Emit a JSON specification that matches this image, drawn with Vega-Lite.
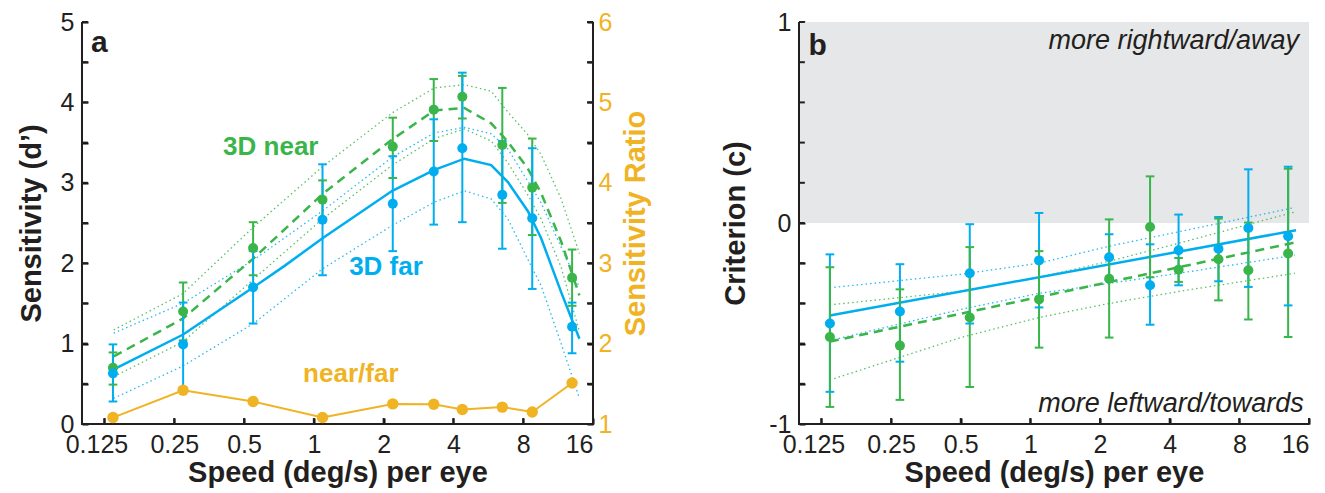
{
  "$schema": "https://vega.github.io/schema/vega-lite/v6.json",
  "background": "white",
  "padding": {"left": 17, "top": 10, "right": 5, "bottom": 5},
  "spacing": 70,
  "config": {
    "font": "Liberation Sans",
    "view": {"stroke": null},
    "scale": {"continuousPadding": 0},
    "axis": {
      "labelFont": "Liberation Sans", "labelFontSize": 25, "labelColor": "#231f20",
      "titleFont": "Liberation Sans", "titleFontSize": 29, "titleFontWeight": "bold", "titleColor": "#231f20",
      "grid": false, "labelOverlap": false, "labelBound": false, "labelFlush": false,
      "domain": false, "ticks": true, "tickSize": -6, "tickColor": "black", "tickWidth": 2
    }
  },
  "datasets": {
    "tyA": [{"t": 0}, {"t": 0.5}, {"t": 1}, {"t": 1.5}, {"t": 2}, {"t": 2.5}, {"t": 3}, {"t": 3.5}, {"t": 4}, {"t": 4.5}, {"t": 5}],
    "tyB": [{"t": -1}, {"t": -0.8}, {"t": -0.6}, {"t": -0.4}, {"t": -0.2}, {"t": 0}, {"t": 0.2}, {"t": 0.4}, {"t": 0.6}, {"t": 0.8}, {"t": 1}],
    "tx": [{"t": 0.125}, {"t": 0.25}, {"t": 0.5}, {"t": 1}, {"t": 2}, {"t": 4}, {"t": 8}, {"t": 16}],
    "pa": [
      {"s": 0.136, "cond": "near", "v": 0.70, "lo": 0.49, "hi": 0.89},
      {"s": 0.273, "cond": "near", "v": 1.40, "lo": 1.04, "hi": 1.76},
      {"s": 0.547, "cond": "near", "v": 2.19, "lo": 1.85, "hi": 2.51},
      {"s": 1.09, "cond": "near", "v": 2.79, "lo": 2.55, "hi": 3.03},
      {"s": 2.19, "cond": "near", "v": 3.45, "lo": 3.06, "hi": 3.81},
      {"s": 3.29, "cond": "near", "v": 3.91, "lo": 3.52, "hi": 4.29},
      {"s": 4.37, "cond": "near", "v": 4.07, "lo": 3.80, "hi": 4.33},
      {"s": 6.5, "cond": "near", "v": 3.47, "lo": 2.75, "hi": 4.18},
      {"s": 8.75, "cond": "near", "v": 2.94, "lo": 2.35, "hi": 3.55},
      {"s": 13.0, "cond": "near", "v": 1.82, "lo": 1.47, "hi": 2.17},
      {"s": 0.136, "cond": "far", "v": 0.63, "lo": 0.28, "hi": 0.99},
      {"s": 0.273, "cond": "far", "v": 0.99, "lo": 0.45, "hi": 1.51},
      {"s": 0.547, "cond": "far", "v": 1.70, "lo": 1.25, "hi": 2.15},
      {"s": 1.09, "cond": "far", "v": 2.54, "lo": 1.85, "hi": 3.23},
      {"s": 2.19, "cond": "far", "v": 2.74, "lo": 2.15, "hi": 3.33},
      {"s": 3.29, "cond": "far", "v": 3.14, "lo": 2.48, "hi": 3.79},
      {"s": 4.37, "cond": "far", "v": 3.43, "lo": 2.51, "hi": 4.37},
      {"s": 6.5, "cond": "far", "v": 2.85, "lo": 2.18, "hi": 3.52},
      {"s": 8.75, "cond": "far", "v": 2.56, "lo": 1.68, "hi": 3.43},
      {"s": 13.0, "cond": "far", "v": 1.21, "lo": 0.88, "hi": 1.51}
    ],
    "ratio": [
      {"s": 0.136, "r": 1.08}, {"s": 0.273, "r": 1.42}, {"s": 0.547, "r": 1.28}, {"s": 1.09, "r": 1.08},
      {"s": 2.19, "r": 1.25}, {"s": 3.29, "r": 1.245}, {"s": 4.37, "r": 1.18}, {"s": 6.5, "r": 1.21},
      {"s": 8.75, "r": 1.15}, {"s": 13.0, "r": 1.51}
    ],
    "fa": [
      {"s": 0.137, "v": 0.68, "cond": "far", "band": "fit"}, {"s": 0.272, "v": 1.11, "cond": "far", "band": "fit"},
      {"s": 0.549, "v": 1.70, "cond": "far", "band": "fit"}, {"s": 0.75, "v": 1.97, "cond": "far", "band": "fit"},
      {"s": 1.09, "v": 2.31, "cond": "far", "band": "fit"}, {"s": 2.18, "v": 2.90, "cond": "far", "band": "fit"},
      {"s": 3.31, "v": 3.16, "cond": "far", "band": "fit"}, {"s": 4.46, "v": 3.30, "cond": "far", "band": "fit"},
      {"s": 5.82, "v": 3.22, "cond": "far", "band": "fit"}, {"s": 6.87, "v": 3.01, "cond": "far", "band": "fit"},
      {"s": 8.37, "v": 2.65, "cond": "far", "band": "fit"}, {"s": 9.56, "v": 2.31, "cond": "far", "band": "fit"},
      {"s": 11.66, "v": 1.64, "cond": "far", "band": "fit"}, {"s": 13.98, "v": 1.06, "cond": "far", "band": "fit"},
      {"s": 0.137, "v": 1.13, "cond": "far", "band": "up"}, {"s": 0.272, "v": 1.50, "cond": "far", "band": "up"},
      {"s": 0.549, "v": 2.04, "cond": "far", "band": "up"}, {"s": 1.09, "v": 2.65, "cond": "far", "band": "up"},
      {"s": 2.18, "v": 3.32, "cond": "far", "band": "up"}, {"s": 3.31, "v": 3.62, "cond": "far", "band": "up"},
      {"s": 4.46, "v": 3.69, "cond": "far", "band": "up"}, {"s": 5.82, "v": 3.61, "cond": "far", "band": "up"},
      {"s": 6.87, "v": 3.42, "cond": "far", "band": "up"}, {"s": 8.37, "v": 3.02, "cond": "far", "band": "up"},
      {"s": 9.56, "v": 2.75, "cond": "far", "band": "up"}, {"s": 11.66, "v": 2.20, "cond": "far", "band": "up"},
      {"s": 13.98, "v": 1.70, "cond": "far", "band": "up"},
      {"s": 0.137, "v": 0.32, "cond": "far", "band": "lo"}, {"s": 0.272, "v": 0.72, "cond": "far", "band": "lo"},
      {"s": 0.549, "v": 1.25, "cond": "far", "band": "lo"}, {"s": 1.09, "v": 1.93, "cond": "far", "band": "lo"},
      {"s": 2.18, "v": 2.47, "cond": "far", "band": "lo"}, {"s": 3.31, "v": 2.76, "cond": "far", "band": "lo"},
      {"s": 4.46, "v": 2.90, "cond": "far", "band": "lo"}, {"s": 5.82, "v": 2.80, "cond": "far", "band": "lo"},
      {"s": 6.87, "v": 2.55, "cond": "far", "band": "lo"}, {"s": 8.37, "v": 2.05, "cond": "far", "band": "lo"},
      {"s": 9.56, "v": 1.72, "cond": "far", "band": "lo"}, {"s": 11.66, "v": 1.00, "cond": "far", "band": "lo"},
      {"s": 13.98, "v": 0.32, "cond": "far", "band": "lo"},
      {"s": 0.137, "v": 0.84, "cond": "near", "band": "fit"}, {"s": 0.272, "v": 1.31, "cond": "near", "band": "fit"},
      {"s": 0.549, "v": 2.06, "cond": "near", "band": "fit"}, {"s": 1.09, "v": 2.86, "cond": "near", "band": "fit"},
      {"s": 2.18, "v": 3.54, "cond": "near", "band": "fit"}, {"s": 3.31, "v": 3.90, "cond": "near", "band": "fit"},
      {"s": 4.46, "v": 3.93, "cond": "near", "band": "fit"}, {"s": 5.82, "v": 3.74, "cond": "near", "band": "fit"},
      {"s": 6.87, "v": 3.51, "cond": "near", "band": "fit"}, {"s": 8.37, "v": 3.18, "cond": "near", "band": "fit"},
      {"s": 9.56, "v": 2.87, "cond": "near", "band": "fit"}, {"s": 11.66, "v": 2.27, "cond": "near", "band": "fit"},
      {"s": 13.98, "v": 1.60, "cond": "near", "band": "fit"},
      {"s": 0.137, "v": 1.17, "cond": "near", "band": "up"}, {"s": 0.272, "v": 1.62, "cond": "near", "band": "up"},
      {"s": 0.549, "v": 2.45, "cond": "near", "band": "up"}, {"s": 1.09, "v": 3.20, "cond": "near", "band": "up"},
      {"s": 2.18, "v": 3.87, "cond": "near", "band": "up"}, {"s": 3.31, "v": 4.18, "cond": "near", "band": "up"},
      {"s": 4.46, "v": 4.22, "cond": "near", "band": "up"}, {"s": 5.82, "v": 4.14, "cond": "near", "band": "up"},
      {"s": 6.87, "v": 3.88, "cond": "near", "band": "up"}, {"s": 8.37, "v": 3.60, "cond": "near", "band": "up"},
      {"s": 9.56, "v": 3.35, "cond": "near", "band": "up"}, {"s": 11.66, "v": 2.80, "cond": "near", "band": "up"},
      {"s": 13.98, "v": 2.12, "cond": "near", "band": "up"},
      {"s": 0.137, "v": 0.59, "cond": "near", "band": "lo"}, {"s": 0.272, "v": 1.02, "cond": "near", "band": "lo"},
      {"s": 0.549, "v": 1.80, "cond": "near", "band": "lo"}, {"s": 1.09, "v": 2.55, "cond": "near", "band": "lo"},
      {"s": 2.18, "v": 3.22, "cond": "near", "band": "lo"}, {"s": 3.31, "v": 3.55, "cond": "near", "band": "lo"},
      {"s": 4.46, "v": 3.67, "cond": "near", "band": "lo"}, {"s": 5.82, "v": 3.52, "cond": "near", "band": "lo"},
      {"s": 6.87, "v": 3.25, "cond": "near", "band": "lo"}, {"s": 8.37, "v": 2.85, "cond": "near", "band": "lo"},
      {"s": 9.56, "v": 2.55, "cond": "near", "band": "lo"}, {"s": 11.66, "v": 1.95, "cond": "near", "band": "lo"},
      {"s": 13.98, "v": 1.15, "cond": "near", "band": "lo"}
    ],
    "pb": [
      {"s": 0.136, "cond": "far", "v": -0.50, "lo": -0.84, "hi": -0.156},
      {"s": 0.273, "cond": "far", "v": -0.44, "lo": -0.69, "hi": -0.205},
      {"s": 0.547, "cond": "far", "v": -0.25, "lo": -0.50, "hi": -0.006},
      {"s": 1.09, "cond": "far", "v": -0.186, "lo": -0.42, "hi": 0.05},
      {"s": 2.19, "cond": "far", "v": -0.17, "lo": -0.284, "hi": -0.056},
      {"s": 3.29, "cond": "far", "v": -0.31, "lo": -0.506, "hi": -0.106},
      {"s": 4.37, "cond": "far", "v": -0.136, "lo": -0.31, "hi": 0.042},
      {"s": 6.5, "cond": "far", "v": -0.128, "lo": -0.29, "hi": 0.03},
      {"s": 8.75, "cond": "far", "v": -0.025, "lo": -0.318, "hi": 0.267},
      {"s": 13.0, "cond": "far", "v": -0.066, "lo": -0.41, "hi": 0.28},
      {"s": 0.136, "cond": "near", "v": -0.567, "lo": -0.915, "hi": -0.22},
      {"s": 0.273, "cond": "near", "v": -0.61, "lo": -0.88, "hi": -0.33},
      {"s": 0.547, "cond": "near", "v": -0.47, "lo": -0.816, "hi": -0.12},
      {"s": 1.09, "cond": "near", "v": -0.38, "lo": -0.62, "hi": -0.14},
      {"s": 2.19, "cond": "near", "v": -0.277, "lo": -0.57, "hi": 0.018},
      {"s": 3.29, "cond": "near", "v": -0.02, "lo": -0.27, "hi": 0.232},
      {"s": 4.37, "cond": "near", "v": -0.232, "lo": -0.293, "hi": -0.174},
      {"s": 6.5, "cond": "near", "v": -0.18, "lo": -0.385, "hi": 0.022},
      {"s": 8.75, "cond": "near", "v": -0.235, "lo": -0.48, "hi": 0.002},
      {"s": 13.0, "cond": "near", "v": -0.152, "lo": -0.567, "hi": 0.27}
    ],
    "fb": [
      {"s": 0.136, "v": -0.46, "cond": "far", "band": "fit"}, {"s": 14.06, "v": -0.036, "cond": "far", "band": "fit"},
      {"s": 0.136, "v": -0.59, "cond": "near", "band": "fit"}, {"s": 14.06, "v": -0.096, "cond": "near", "band": "fit"},
      {"s": 0.142, "v": -0.32, "cond": "far", "band": "up"}, {"s": 0.5, "v": -0.255, "cond": "far", "band": "up"},
      {"s": 1.09, "v": -0.20, "cond": "far", "band": "up"}, {"s": 2.2, "v": -0.115, "cond": "far", "band": "up"},
      {"s": 4.4, "v": -0.043, "cond": "far", "band": "up"}, {"s": 13.9, "v": 0.077, "cond": "far", "band": "up"},
      {"s": 0.142, "v": -0.58, "cond": "far", "band": "lo"}, {"s": 0.5, "v": -0.43, "cond": "far", "band": "lo"},
      {"s": 1.09, "v": -0.35, "cond": "far", "band": "lo"}, {"s": 2.2, "v": -0.30, "cond": "far", "band": "lo"},
      {"s": 4.4, "v": -0.25, "cond": "far", "band": "lo"}, {"s": 13.9, "v": -0.16, "cond": "far", "band": "lo"},
      {"s": 0.142, "v": -0.405, "cond": "near", "band": "up"}, {"s": 0.5, "v": -0.34, "cond": "near", "band": "up"},
      {"s": 1.09, "v": -0.27, "cond": "near", "band": "up"}, {"s": 2.2, "v": -0.19, "cond": "near", "band": "up"},
      {"s": 4.4, "v": -0.10, "cond": "near", "band": "up"}, {"s": 13.9, "v": 0.055, "cond": "near", "band": "up"},
      {"s": 0.142, "v": -0.774, "cond": "near", "band": "lo"}, {"s": 0.5, "v": -0.57, "cond": "near", "band": "lo"},
      {"s": 1.09, "v": -0.47, "cond": "near", "band": "lo"}, {"s": 2.2, "v": -0.40, "cond": "near", "band": "lo"},
      {"s": 4.4, "v": -0.34, "cond": "near", "band": "lo"}, {"s": 13.9, "v": -0.25, "cond": "near", "band": "lo"}
    ]
  },
  "hconcat": [
    {
      "width": 511,
      "height": 402,
      "resolve": {"scale": {"y": "independent"}},
      "layer": [
        {
          "layer": [
            {
              "data": {"name": "fa"},
              "transform": [{"filter": "datum.band !== 'fit'"}],
              "mark": {"type": "line", "strokeWidth": 1.3, "strokeDash": [1.5, 3], "opacity": 0.85},
              "encoding": {
                "x": {"field": "s", "type": "quantitative", "scale": {"type": "log", "domain": [0.1, 16], "nice": false, "padding": 0}, "title": "Speed (deg/s) per eye",
                  "axis": {"values": [0.125, 0.25, 0.5, 1, 2, 4, 8, 16], "format": "~g", "labelPadding": 14, "titlePadding": 1,
                    "labelAlign": {"condition": {"test": "datum.value > 10", "value": "right"}, "value": "center"},
                    "labelOffset": {"condition": {"test": "datum.value < 0.2", "value": -8}, "value": 0}}},
                "y": {"field": "v", "type": "quantitative", "scale": {"domain": [0, 5], "nice": false, "padding": 0}, "title": "Sensitivity (d’)",
                  "axis": {"values": [0, 0.5, 1, 1.5, 2, 2.5, 3, 3.5, 4, 4.5, 5], "labelExpr": "datum.value % 1 ? '' : format(datum.value, 'd')", "labelPadding": 14, "titlePadding": 14}},
                "color": {"field": "cond", "type": "nominal", "scale": {"domain": ["far", "near"], "range": ["#00aeef", "#39b54a"]}, "legend": null},
                "detail": {"field": "band"}
              }
            },
            {
              "data": {"name": "fa"},
              "transform": [{"filter": "datum.band === 'fit' && datum.cond === 'far'"}],
              "mark": {"type": "line", "strokeWidth": 2.5},
              "encoding": {
                "x": {"field": "s", "type": "quantitative", "scale": {"type": "log", "domain": [0.1, 16], "nice": false, "padding": 0}, "title": "Speed (deg/s) per eye"},
                "y": {"field": "v", "type": "quantitative", "scale": {"domain": [0, 5], "nice": false, "padding": 0}, "title": "Sensitivity (d’)"},
                "color": {"field": "cond", "type": "nominal", "legend": null}
              }
            },
            {
              "data": {"name": "fa"},
              "transform": [{"filter": "datum.band === 'fit' && datum.cond === 'near'"}],
              "mark": {"type": "line", "strokeWidth": 2.5, "strokeDash": [9, 6]},
              "encoding": {
                "x": {"field": "s", "type": "quantitative", "scale": {"type": "log", "domain": [0.1, 16], "nice": false, "padding": 0}, "title": "Speed (deg/s) per eye"},
                "y": {"field": "v", "type": "quantitative", "scale": {"domain": [0, 5], "nice": false, "padding": 0}, "title": "Sensitivity (d’)"},
                "color": {"field": "cond", "type": "nominal", "legend": null}
              }
            },
            {
              "data": {"name": "pa"},
              "mark": {"type": "rule", "strokeWidth": 2},
              "encoding": {
                "x": {"field": "s", "type": "quantitative", "scale": {"type": "log", "domain": [0.1, 16], "nice": false, "padding": 0}, "title": "Speed (deg/s) per eye"},
                "y": {"field": "lo", "type": "quantitative", "scale": {"domain": [0, 5], "nice": false, "padding": 0}, "title": "Sensitivity (d’)"},
                "y2": {"field": "hi"},
                "color": {"field": "cond", "type": "nominal", "legend": null}
              }
            },
            {
              "data": {"name": "pa"},
              "mark": {"type": "point", "shape": "M-1,0L1,0", "size": 75, "strokeWidth": 2, "filled": false, "opacity": 1},
              "encoding": {
                "x": {"field": "s", "type": "quantitative", "scale": {"type": "log", "domain": [0.1, 16], "nice": false, "padding": 0}, "title": "Speed (deg/s) per eye"},
                "y": {"field": "lo", "type": "quantitative", "scale": {"domain": [0, 5], "nice": false, "padding": 0}, "title": "Sensitivity (d’)"},
                "color": {"field": "cond", "type": "nominal", "legend": null}
              }
            },
            {
              "data": {"name": "pa"},
              "mark": {"type": "point", "shape": "M-1,0L1,0", "size": 75, "strokeWidth": 2, "filled": false, "opacity": 1},
              "encoding": {
                "x": {"field": "s", "type": "quantitative", "scale": {"type": "log", "domain": [0.1, 16], "nice": false, "padding": 0}, "title": "Speed (deg/s) per eye"},
                "y": {"field": "hi", "type": "quantitative", "scale": {"domain": [0, 5], "nice": false, "padding": 0}, "title": "Sensitivity (d’)"},
                "color": {"field": "cond", "type": "nominal", "legend": null}
              }
            },
            {
              "data": {"name": "pa"},
              "mark": {"type": "circle", "size": 100, "opacity": 1},
              "encoding": {
                "x": {"field": "s", "type": "quantitative", "scale": {"type": "log", "domain": [0.1, 16], "nice": false, "padding": 0}, "title": "Speed (deg/s) per eye"},
                "y": {"field": "v", "type": "quantitative", "scale": {"domain": [0, 5], "nice": false, "padding": 0}, "title": "Sensitivity (d’)"},
                "color": {"field": "cond", "type": "nominal", "legend": null}
              }
            },
            {
              "data": {"values": [{}]},
              "mark": {"type": "rect", "color": "#231f20", "opacity": 1},
              "encoding": {"x": {"datum": 0.099, "type": "quantitative"}, "x2": {"datum": 0.101}, "y": {"datum": 0, "type": "quantitative"}, "y2": {"datum": 5}}
            },
            {
              "data": {"values": [{}]},
              "mark": {"type": "rect", "color": "#231f20", "opacity": 1},
              "encoding": {"x": {"datum": 15.84, "type": "quantitative"}, "x2": {"datum": 16.16}, "y": {"datum": 0, "type": "quantitative"}, "y2": {"datum": 5}}
            },
            {
              "data": {"values": [{}]},
              "mark": {"type": "rect", "color": "#231f20", "opacity": 1},
              "encoding": {"x": {"datum": 0.099, "type": "quantitative"}, "x2": {"datum": 16.16}, "y": {"datum": -0.0124, "type": "quantitative"}, "y2": {"datum": 0.0124}}
            },
            {
              "data": {"name": "tyA"},
              "mark": {"type": "bar", "size": 2, "color": "#231f20", "opacity": 1},
              "encoding": {"x": {"datum": 0.1, "type": "quantitative"}, "x2": {"datum": 0.106}, "y": {"field": "t", "type": "quantitative", "scale": {"domain": [0, 5], "nice": false, "padding": 0}, "title": "Sensitivity (d’)"}}
            },
            {
              "data": {"name": "tyA"},
              "mark": {"type": "bar", "size": 2, "color": "#231f20", "opacity": 1},
              "encoding": {"x": {"datum": 15.08, "type": "quantitative"}, "x2": {"datum": 16}, "y": {"field": "t", "type": "quantitative", "scale": {"domain": [0, 5], "nice": false, "padding": 0}, "title": "Sensitivity (d’)"}}
            },
            {
              "data": {"name": "tx"},
              "mark": {"type": "bar", "size": 2, "color": "#231f20", "opacity": 1},
              "encoding": {"x": {"field": "t", "type": "quantitative", "scale": {"type": "log", "domain": [0.1, 16], "nice": false, "padding": 0}, "title": "Speed (deg/s) per eye"}, "y": {"datum": 0, "type": "quantitative"}, "y2": {"datum": 0.0746}}
            },
            {
              "data": {"values": [{}]},
              "mark": {"type": "text", "text": "a", "font": "Liberation Sans", "fontSize": 30, "fontWeight": "bold", "align": "left", "baseline": "alphabetic", "color": "#231f20"},
              "encoding": {"x": {"datum": 0.1094, "type": "quantitative"}, "y": {"datum": 4.63, "type": "quantitative"}}
            },
            {
              "data": {"values": [{}]},
              "mark": {"type": "text", "text": "3D near", "font": "Liberation Sans", "fontSize": 26, "fontWeight": "bold", "align": "left", "baseline": "alphabetic", "color": "#39b54a"},
              "encoding": {"x": {"datum": 0.406, "type": "quantitative"}, "y": {"datum": 3.34, "type": "quantitative"}}
            },
            {
              "data": {"values": [{}]},
              "mark": {"type": "text", "text": "3D far", "font": "Liberation Sans", "fontSize": 26, "fontWeight": "bold", "align": "left", "baseline": "alphabetic", "color": "#00aeef"},
              "encoding": {"x": {"datum": 1.42, "type": "quantitative"}, "y": {"datum": 1.85, "type": "quantitative"}}
            },
            {
              "data": {"values": [{}]},
              "mark": {"type": "text", "text": "near/far", "font": "Liberation Sans", "fontSize": 26, "fontWeight": "bold", "align": "left", "baseline": "alphabetic", "color": "#f0b323"},
              "encoding": {"x": {"datum": 0.899, "type": "quantitative"}, "y": {"datum": 0.526, "type": "quantitative"}}
            }
          ]
        },
        {
          "data": {"name": "ratio"},
          "layer": [
            {
              "mark": {"type": "line", "strokeWidth": 2, "color": "#f0b323"},
              "encoding": {
                "x": {"field": "s", "type": "quantitative", "scale": {"type": "log", "domain": [0.1, 16], "nice": false, "padding": 0}, "title": "Speed (deg/s) per eye"},
                "y": {"field": "r", "type": "quantitative", "scale": {"domain": [1, 6], "nice": false, "padding": 0}, "title": "Sensitivity Ratio",
                  "axis": {"orient": "right",
                    "values": [1, 1.5, 2, 2.5, 3, 3.5, 4, 4.5, 5, 5.5, 6], "labelExpr": "datum.value % 1 ? '' : format(datum.value, 'd')",
                    "labelColor": "#f0b323", "titleColor": "#f0b323", "titleAngle": 270, "titleBaseline": "top", "labelPadding": 11, "titlePadding": 10}}
              }
            },
            {
              "mark": {"type": "circle", "size": 130, "opacity": 1, "color": "#f0b323"},
              "encoding": {
                "x": {"field": "s", "type": "quantitative", "scale": {"type": "log", "domain": [0.1, 16], "nice": false, "padding": 0}, "title": "Speed (deg/s) per eye"},
                "y": {"field": "r", "type": "quantitative", "scale": {"domain": [1, 6], "nice": false, "padding": 0}, "title": "Sensitivity Ratio"}
              }
            }
          ]
        }
      ]
    },
    {
      "width": 510,
      "height": 402,
      "layer": [
        {
          "data": {"values": [{}]},
          "mark": {"type": "rect", "color": "#e6e7e8"},
          "encoding": {
            "x": {"datum": 0.1, "type": "quantitative", "scale": {"type": "log", "domain": [0.1, 16], "nice": false, "padding": 0}, "title": "Speed (deg/s) per eye",
              "axis": {"values": [0.125, 0.25, 0.5, 1, 2, 4, 8, 16], "format": "~g", "labelPadding": 14, "titlePadding": 1,
                "labelAlign": {"condition": {"test": "datum.value > 10", "value": "right"}, "value": "center"},
                "labelOffset": {"condition": {"test": "datum.value < 0.2", "value": -8}, "value": 0}}},
            "x2": {"datum": 16},
            "y": {"datum": 0, "type": "quantitative", "scale": {"domain": [-1, 1], "nice": false, "padding": 0}, "title": "Criterion (c)",
              "axis": {"values": [-1, -0.8, -0.6, -0.4, -0.2, 0, 0.2, 0.4, 0.6, 0.8, 1],
                "labelExpr": "abs(datum.value - round(datum.value)) > 0.01 ? '' : (datum.value < -0.5 ? '-1' : (datum.value > 0.5 ? '1' : '0'))",
                "labelPadding": 14, "titlePadding": 18}},
            "y2": {"datum": 1}
          }
        },
        {
          "data": {"name": "fb"},
          "transform": [{"filter": "datum.band !== 'fit'"}],
          "mark": {"type": "line", "strokeWidth": 1.3, "strokeDash": [1.5, 3], "opacity": 0.85},
          "encoding": {
            "x": {"field": "s", "type": "quantitative", "scale": {"type": "log", "domain": [0.1, 16], "nice": false, "padding": 0}, "title": "Speed (deg/s) per eye"},
            "y": {"field": "v", "type": "quantitative", "scale": {"domain": [-1, 1], "nice": false, "padding": 0}, "title": "Criterion (c)"},
            "color": {"field": "cond", "type": "nominal", "scale": {"domain": ["far", "near"], "range": ["#00aeef", "#39b54a"]}, "legend": null},
            "detail": {"field": "band"}
          }
        },
        {
          "data": {"name": "fb"},
          "transform": [{"filter": "datum.band === 'fit' && datum.cond === 'far'"}],
          "mark": {"type": "line", "strokeWidth": 2.5},
          "encoding": {
            "x": {"field": "s", "type": "quantitative", "scale": {"type": "log", "domain": [0.1, 16], "nice": false, "padding": 0}, "title": "Speed (deg/s) per eye"},
            "y": {"field": "v", "type": "quantitative", "scale": {"domain": [-1, 1], "nice": false, "padding": 0}, "title": "Criterion (c)"},
            "color": {"field": "cond", "type": "nominal", "legend": null}
          }
        },
        {
          "data": {"name": "fb"},
          "transform": [{"filter": "datum.band === 'fit' && datum.cond === 'near'"}],
          "mark": {"type": "line", "strokeWidth": 2.5, "strokeDash": [9, 6]},
          "encoding": {
            "x": {"field": "s", "type": "quantitative", "scale": {"type": "log", "domain": [0.1, 16], "nice": false, "padding": 0}, "title": "Speed (deg/s) per eye"},
            "y": {"field": "v", "type": "quantitative", "scale": {"domain": [-1, 1], "nice": false, "padding": 0}, "title": "Criterion (c)"},
            "color": {"field": "cond", "type": "nominal", "legend": null}
          }
        },
        {
          "data": {"name": "pb"},
          "mark": {"type": "rule", "strokeWidth": 2},
          "encoding": {
            "x": {"field": "s", "type": "quantitative", "scale": {"type": "log", "domain": [0.1, 16], "nice": false, "padding": 0}, "title": "Speed (deg/s) per eye"},
            "y": {"field": "lo", "type": "quantitative", "scale": {"domain": [-1, 1], "nice": false, "padding": 0}, "title": "Criterion (c)"},
            "y2": {"field": "hi"},
            "color": {"field": "cond", "type": "nominal", "legend": null}
          }
        },
        {
          "data": {"name": "pb"},
          "mark": {"type": "point", "shape": "M-1,0L1,0", "size": 75, "strokeWidth": 2, "filled": false, "opacity": 1},
          "encoding": {
            "x": {"field": "s", "type": "quantitative", "scale": {"type": "log", "domain": [0.1, 16], "nice": false, "padding": 0}, "title": "Speed (deg/s) per eye"},
            "y": {"field": "lo", "type": "quantitative", "scale": {"domain": [-1, 1], "nice": false, "padding": 0}, "title": "Criterion (c)"},
            "color": {"field": "cond", "type": "nominal", "legend": null}
          }
        },
        {
          "data": {"name": "pb"},
          "mark": {"type": "point", "shape": "M-1,0L1,0", "size": 75, "strokeWidth": 2, "filled": false, "opacity": 1},
          "encoding": {
            "x": {"field": "s", "type": "quantitative", "scale": {"type": "log", "domain": [0.1, 16], "nice": false, "padding": 0}, "title": "Speed (deg/s) per eye"},
            "y": {"field": "hi", "type": "quantitative", "scale": {"domain": [-1, 1], "nice": false, "padding": 0}, "title": "Criterion (c)"},
            "color": {"field": "cond", "type": "nominal", "legend": null}
          }
        },
        {
          "data": {"name": "pb"},
          "mark": {"type": "circle", "size": 100, "opacity": 1},
          "encoding": {
            "x": {"field": "s", "type": "quantitative", "scale": {"type": "log", "domain": [0.1, 16], "nice": false, "padding": 0}, "title": "Speed (deg/s) per eye"},
            "y": {"field": "v", "type": "quantitative", "scale": {"domain": [-1, 1], "nice": false, "padding": 0}, "title": "Criterion (c)"},
            "color": {"field": "cond", "type": "nominal", "legend": null}
          }
        },
        {
          "data": {"values": [{}]},
          "mark": {"type": "rect", "color": "#231f20", "opacity": 1},
          "encoding": {"x": {"datum": 0.099, "type": "quantitative"}, "x2": {"datum": 0.101}, "y": {"datum": -1, "type": "quantitative"}, "y2": {"datum": 1}}
        },
        {
          "data": {"values": [{}]},
          "mark": {"type": "rect", "color": "#231f20", "opacity": 1},
          "encoding": {"x": {"datum": 0.099, "type": "quantitative"}, "x2": {"datum": 16.1}, "y": {"datum": -1.005, "type": "quantitative"}, "y2": {"datum": -0.995}}
        },
        {
          "data": {"name": "tyB"},
          "mark": {"type": "bar", "size": 2, "color": "#231f20", "opacity": 1},
          "encoding": {"x": {"datum": 0.1, "type": "quantitative"}, "x2": {"datum": 0.106}, "y": {"field": "t", "type": "quantitative", "scale": {"domain": [-1, 1], "nice": false, "padding": 0}, "title": "Criterion (c)"}}
        },
        {
          "data": {"name": "tx"},
          "mark": {"type": "bar", "size": 2, "color": "#231f20", "opacity": 1},
          "encoding": {"x": {"field": "t", "type": "quantitative", "scale": {"type": "log", "domain": [0.1, 16], "nice": false, "padding": 0}, "title": "Speed (deg/s) per eye"}, "y": {"datum": -1, "type": "quantitative"}, "y2": {"datum": -0.97}}
        },
        {
          "data": {"values": [{}]},
          "mark": {"type": "text", "text": "b", "font": "Liberation Sans", "fontSize": 30, "fontWeight": "bold", "align": "left", "baseline": "alphabetic", "color": "#231f20"},
          "encoding": {"x": {"datum": 0.110, "type": "quantitative"}, "y": {"datum": 0.834, "type": "quantitative"}}
        },
        {
          "data": {"values": [{}]},
          "mark": {"type": "text", "text": "more rightward/away", "font": "Liberation Sans", "fontSize": 27, "fontStyle": "italic", "align": "right", "baseline": "alphabetic", "color": "#231f20"},
          "encoding": {"x": {"datum": 14.5, "type": "quantitative"}, "y": {"datum": 0.868, "type": "quantitative"}}
        },
        {
          "data": {"values": [{}]},
          "mark": {"type": "text", "text": "more leftward/towards", "font": "Liberation Sans", "fontSize": 27, "fontStyle": "italic", "align": "right", "baseline": "alphabetic", "color": "#231f20"},
          "encoding": {"x": {"datum": 15.2, "type": "quantitative"}, "y": {"datum": -0.94, "type": "quantitative"}}
        }
      ]
    }
  ]
}
